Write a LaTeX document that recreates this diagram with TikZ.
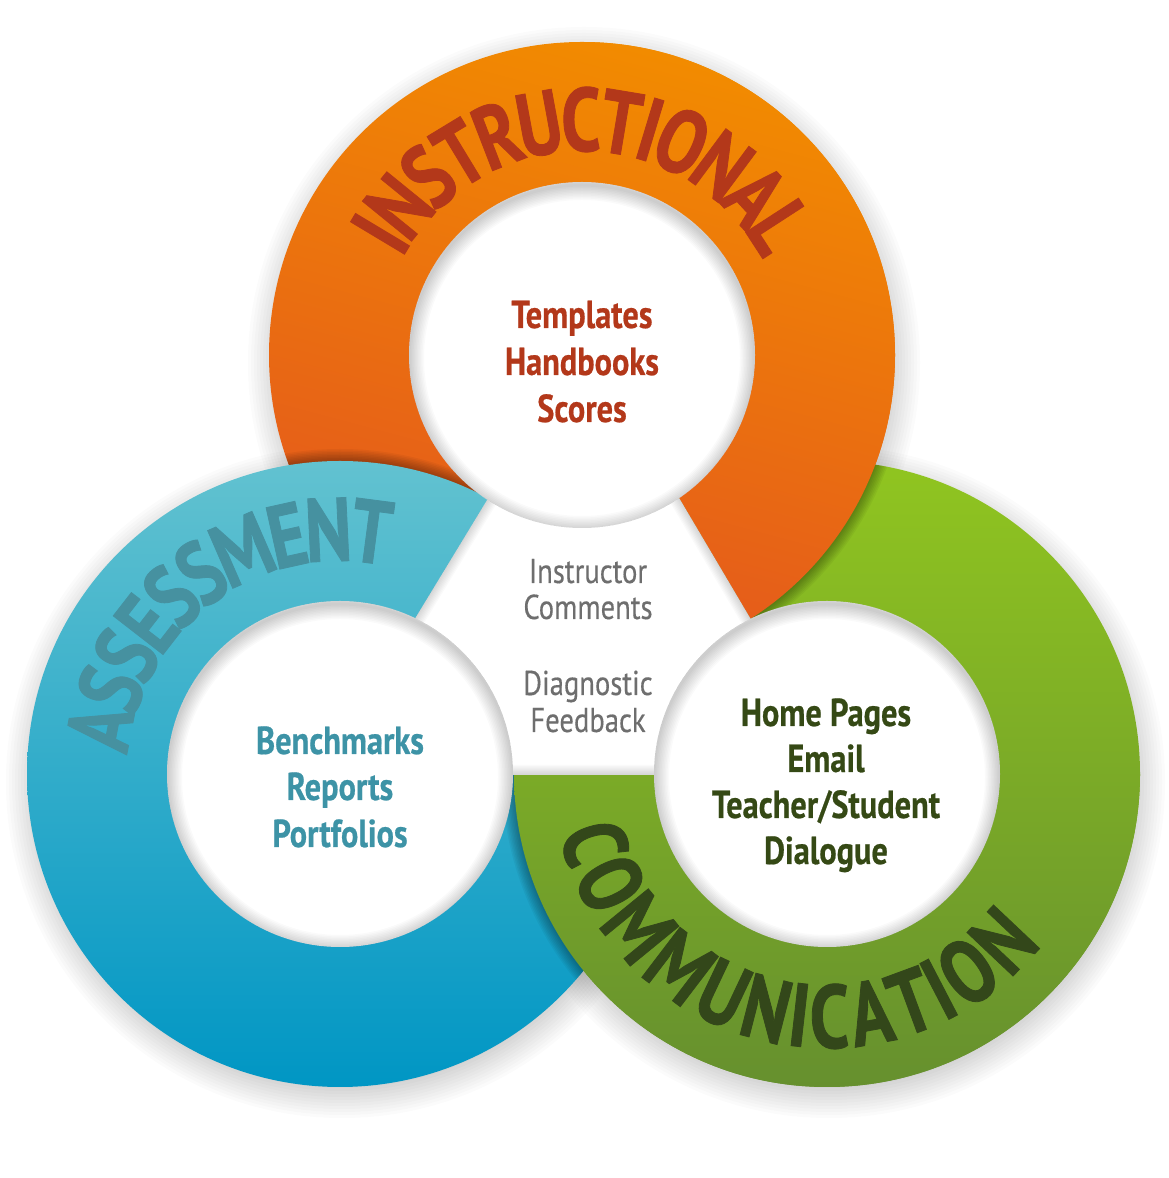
\documentclass[tikz,border=0pt]{standalone}
\usepackage{fontspec}
\usetikzlibrary{decorations.text,calc}
\newfontfamily\cfont[FakeStretch=0.83, FakeBold=0.5]{PT Sans}
\newfontfamily\gfont[FakeStretch=0.83, FakeBold=0.3]{PT Sans}
\newfontfamily\rfont[FakeStretch=0.79, FakeBold=0.9]{PT Sans}
\newcommand\ringfont{\rfont\bfseries\fontsize{90}{94}\selectfont}
\definecolor{orTop}{HTML}{F28B00}
\definecolor{orBot}{HTML}{E3541F}
\definecolor{blTop}{HTML}{62C2D0}
\definecolor{blMid}{HTML}{4DB6CC}
\definecolor{blBot}{HTML}{0096C4}
\definecolor{grTop}{HTML}{90C520}
\definecolor{grMid}{HTML}{86B826}
\definecolor{grBot}{HTML}{66902E}
\definecolor{insTxt}{HTML}{B3381A}
\definecolor{assTxt}{HTML}{4691A0}
\definecolor{comTxt}{HTML}{33471A}
\definecolor{blueTxt}{HTML}{3D93A6}
\definecolor{greenTxt}{HTML}{354915}
\definecolor{grayTxt}{HTML}{6E6E6E}
\newcommand\glowof[1]{\foreach \k in {1,...,8}{\fill[black,opacity=0.045] (#1) circle ({313+1.5*\k});}}
\tikzset{
  orangefill/.style={top color=orTop, bottom color=orBot, shading angle=-15},
  bluefill/.style={top color=blTop, middle color=blMid, bottom color=blBot},
  greenfill/.style={top color=grTop, middle color=grMid, bottom color=grBot},
  intext/.style={font=\cfont\bfseries\fontsize{39}{46}\selectfont, anchor=base, inner sep=0pt},
  graytext/.style={font=\gfont\fontsize{34.5}{37}\selectfont, text=grayTxt, anchor=base, inner sep=0pt},
  ringlabel/.style={decorate, decoration={text along path, text align=center, raise=-32pt, text color=#1}}
}
\begin{document}
\begin{tikzpicture}[x=1pt,y=1pt]
\useasboundingbox (0,0) rectangle (1168,1178);
\fill[white] (0,0) rectangle (1168,1178);
\coordinate (O) at (582,823);
\coordinate (B) at (340,404);
\coordinate (G) at (827,404);
\coordinate (T1) at (585,839);
\coordinate (T2) at (320,403);
\coordinate (T3) at (843,403);
% drop shadows on the background
\foreach \c in {O,B,G}{
  \foreach \k in {1,...,12}{
    \fill[black,opacity=0.015] ($(\c)+(2,-8)$) circle ({300+3*\k});
  }
}
% rings
\shade[orangefill] (O) circle (313);
\shade[greenfill] (G) circle (313);
\begin{scope}
  \clip (O) circle (313);
  \glowof{B}
\end{scope}
\shade[bluefill] (B) circle (313);
% orange over green
\begin{scope}
  \clip (585,1178) -- (T1) -- (T3) -- (1168,403) -- (1168,1178) -- cycle;
  \begin{scope}
    \clip (G) circle (313);
    \glowof{O}
  \end{scope}
  \shade[orangefill] (O) circle (313);
\end{scope}
% green over blue
\begin{scope}
  \clip (0,0) rectangle (1168,403);
  \begin{scope}
    \clip (B) circle (313);
    \glowof{G}
  \end{scope}
  \shade[greenfill] (G) circle (313);
\end{scope}
% white centre triangle
\fill[white] (T1) -- (T2) -- (T3) -- cycle;
\begin{scope}
  \clip (T1) -- (T2) -- (T3) -- cycle;
  \foreach \k in {1,...,8}{
    \draw[black,opacity=0.02,line width=2.5*\k] (T1) -- (T2) -- (T3) -- cycle;
  }
\end{scope}
% holes
\foreach \c in {O,B,G}{
  \fill[white] (\c) circle (173);
  \begin{scope}
    \clip (\c) circle (173);
    \foreach \k in {1,...,10}{
      \draw[black,opacity=0.018,line width=3*\k] ($(\c)+(0,-3)$) circle (173);
    }
  \end{scope}
}
% ring labels
\path[ringlabel=insTxt, decoration={text={|\ringfont|INSTRUCTIONAL}}]
  ($(O)+(180:236)$) arc[start angle=180, end angle=0, radius=236];
\path[ringlabel=assTxt, decoration={text={|\ringfont|ASSESSMENT}}]
  ($(B)+(206:245)$) arc[start angle=206, end angle=46, radius=245];
\path[ringlabel=comTxt, decoration={text={|\ringfont|COMMUNICATION}}]
  ($(G)+(177:242)$) arc[start angle=177, end angle=337, radius=242];
% inner texts
\node[intext, text=insTxt] (tp) at (582,850) {Templates};
\node[intext, text=insTxt] (hb) at (582,803) {Handbooks};
\node[intext, text=insTxt] (sc) at (582,756) {Scores};
\node[intext, text=blueTxt] (bm) at (340,424) {Benchmarks};
\node[intext, text=blueTxt] (rp) at (340,378) {Reports};
\node[intext, text=blueTxt] (pf) at (340,331) {Portfolios};
\node[intext, text=greenTxt] (hp) at (826,452) {Home Pages};
\node[intext, text=greenTxt] (em) at (826,406) {Email};
\node[intext, text=greenTxt] (ts) at (826,360) {Teacher/Student};
\node[intext, text=greenTxt] (dl) at (826,314) {Dialogue};
\node[graytext] (ic) at (588,595) {Instructor};
\node[graytext] (cm) at (588,559) {Comments};
\node[graytext] (dg) at (588,483) {Diagnostic};
\node[graytext] (fb) at (588,446) {Feedback};
\end{tikzpicture}
\end{document}
